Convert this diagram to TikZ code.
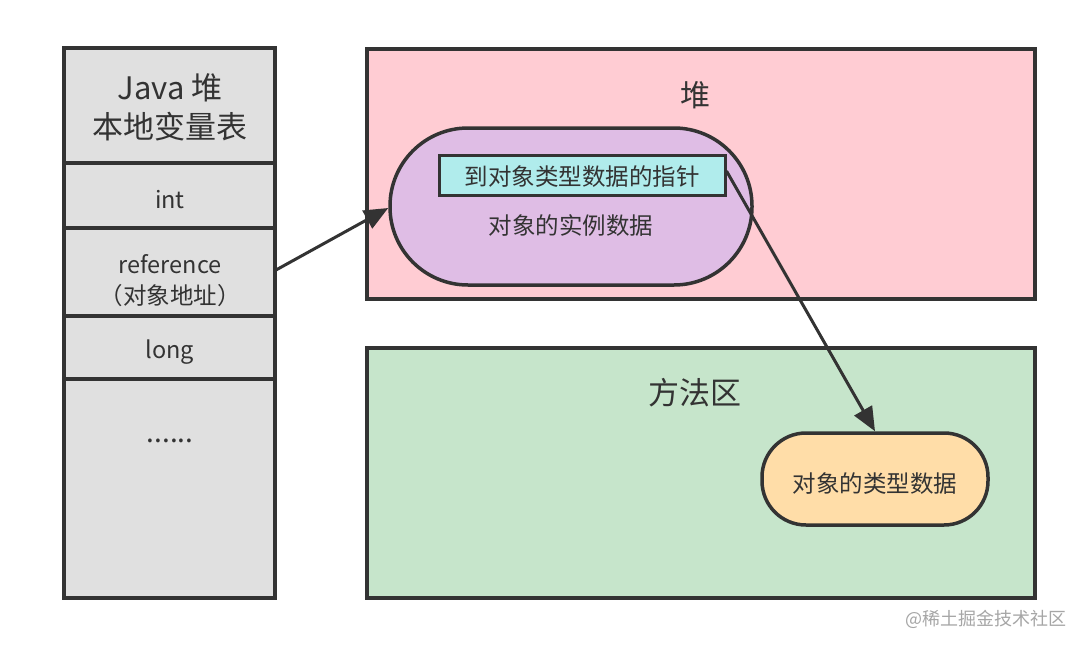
\documentclass[tikz,border=0pt]{standalone}
\usepackage{fontspec}
\setmainfont{Noto Sans CJK SC}
\usetikzlibrary{arrows.meta}
\definecolor{edge}{HTML}{333333}
\definecolor{colgray}{HTML}{E0E0E0}
\definecolor{heapfill}{HTML}{FFCCD3}
\definecolor{methfill}{HTML}{C6E5CB}
\definecolor{objfill}{HTML}{DFBDE5}
\definecolor{ptrfill}{HTML}{B0ECEC}
\definecolor{typefill}{HTML}{FFDDA8}
\definecolor{txt}{HTML}{333333}
\tikzset{
  box/.style={draw=edge, line width=3.5pt},
  conn/.style={draw=edge, line width=3pt, -{Triangle[length=24pt,width=20pt]}},
  lbl/.style={text=txt, inner sep=0pt, align=center},
  small/.style={font=\fontsize{23.5}{31}\selectfont},
}
\begin{document}
\begin{tikzpicture}[x=1pt,y=-1pt]
\useasboundingbox (0,0) rectangle (1085,648);
\fill[white] (0,0) rectangle (1085,648);
% left column
\draw[box, fill=colgray] (64,48) rectangle (275,598);
\draw[box] (64,163) -- (275,163);
\draw[box] (64,228) -- (275,228);
\draw[box] (64,316) -- (275,316);
\draw[box] (64,379) -- (275,379);
\node[lbl, font=\fontsize{31}{39}\selectfont] (title) at (170,107) {Java 堆\\本地变量表};
\node[lbl, small] (int) at (170,200) {int};
\node[lbl, small] (ref) at (170,281) {reference\\（对象地址）};
\node[lbl, small] (long) at (170,352) {long};
\node[lbl, font=\fontsize{28}{30}\selectfont] (dots) at (170,441) {......};
% heap
\draw[box, fill=heapfill] (367,49) rectangle (1035,299);
\node[lbl, font=\fontsize{30}{34}\selectfont] (heap) at (695,95) {堆};
\node[box, fill=objfill, rounded corners=78pt, minimum width=362pt, minimum height=157pt, inner sep=0pt] (obj) at (571,206.5) {};
\node[box, fill=ptrfill, minimum width=286pt, minimum height=40pt, inner sep=0pt, line width=3pt] (ptr) at (582,175) {};
\node[lbl, small] (ptrtext) at (582,177) {到对象类型数据的指针};
\node[lbl, small] (inst) at (571,226) {对象的实例数据};
% method area
\draw[box, fill=methfill] (367,348) rectangle (1035,598);
\node[lbl, font=\fontsize{31}{34}\selectfont] (meth) at (695,393) {方法区};
\node[box, fill=typefill, rounded corners=44pt, minimum width=226pt, minimum height=92pt, inner sep=0pt] (type) at (875,479) {};
\node[lbl, small] (typetext) at (875,484) {对象的类型数据};
% watermark
\node[lbl, text=gray!70, font=\fontsize{18}{20}\selectfont] (wm) at (986,619) {@稀土掘金技术社区};
% connectors
\coordinate (refout) at (276,270);
\draw[conn] (refout) -- (obj.west |- 0,208);
\draw[conn] (ptr.east) ++(0,-4) -- (type.north);
\end{tikzpicture}
\end{document}
